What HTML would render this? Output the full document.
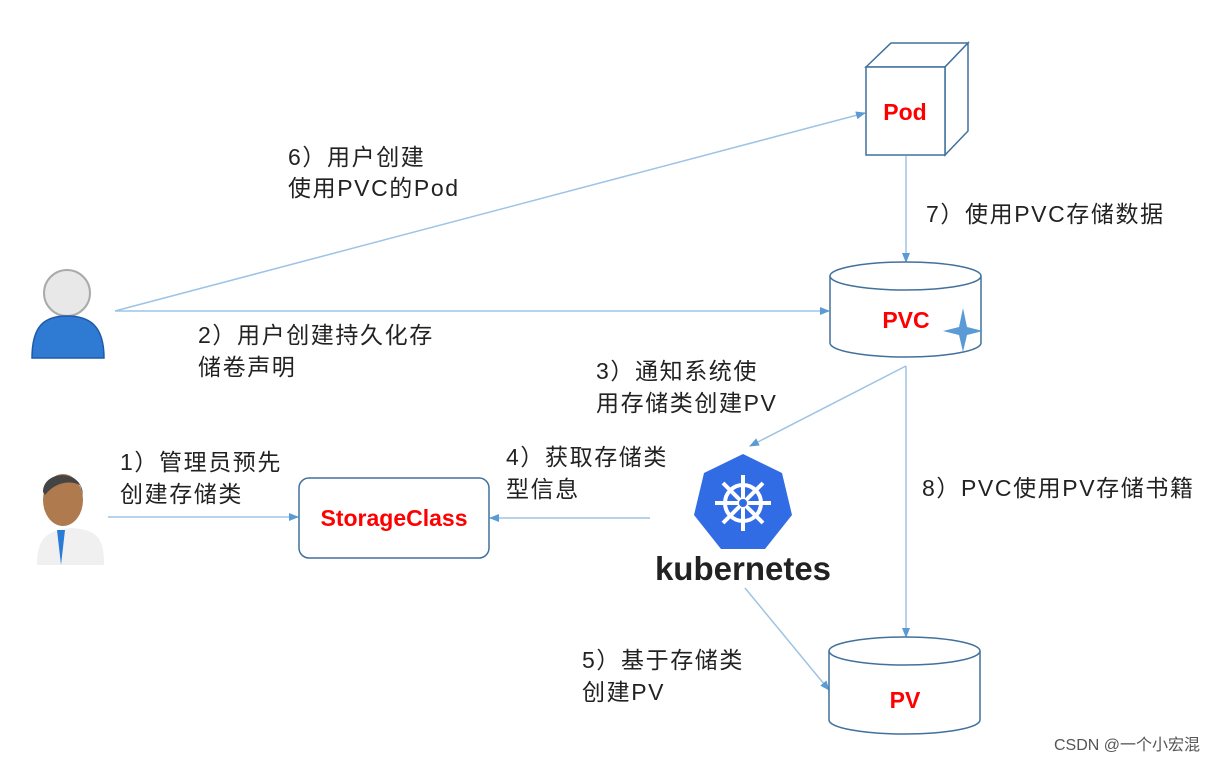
<!DOCTYPE html>
<html><head><meta charset="utf-8"><style>
body{margin:0;background:#fff;width:1215px;height:760px;overflow:hidden;font-family:"Liberation Sans","Noto Sans CJK SC",sans-serif;}
svg text{font-family:"Liberation Sans","Noto Sans CJK SC",sans-serif;}
.l{font-size:23px;fill:#222;letter-spacing:1.6px;}
.r{font-size:23px;fill:#f00;font-weight:bold;}
</style></head><body>
<svg width="1215" height="760" viewBox="0 0 1215 760">
<defs><marker id="a" markerWidth="10" markerHeight="8" refX="9" refY="4" orient="auto" markerUnits="userSpaceOnUse"><path d="M0,0 L10,4 L0,8z" fill="#5b9bd5"/></marker></defs>
<g stroke="#9dc3e6" stroke-width="1.5" fill="none" marker-end="url(#a)">
<line x1="115" y1="311" x2="865" y2="113"/>
<line x1="115" y1="311" x2="829" y2="311"/>
<line x1="906" y1="156" x2="906" y2="262"/>
<line x1="906" y1="366" x2="750" y2="446"/>
<line x1="906" y1="366" x2="906" y2="637"/>
<line x1="650" y1="518" x2="490" y2="518"/>
<line x1="108" y1="517" x2="298" y2="517"/>
<line x1="745" y1="588" x2="829" y2="690"/>
</g>
<g stroke="#41719c" stroke-width="1.5" fill="#fff">
<path d="M866,67 L891,43 L968,43 L945,67z"/>
<path d="M945,67 L968,43 L968,131 L945,155z"/>
<rect x="866" y="67" width="79" height="88"/>
</g>
<text class="r" x="905" y="120" text-anchor="middle">Pod</text>
<g stroke="#41719c" stroke-width="1.5" fill="#fff">
<path d="M830,276 L830,343 A75.5,14 0 0 0 981,343 L981,276"/>
<ellipse cx="905.5" cy="276" rx="75.5" ry="14"/>
</g>
<text class="r" x="906" y="328" text-anchor="middle">PVC</text>
<path d="M963,308 L967,327 L983,331 L967,335 L963,352 L959,335 L943,331 L959,327z" fill="#5b9bd5"/>
<g stroke="#41719c" stroke-width="1.5" fill="#fff">
<path d="M829,651 L829,720 A75.5,14 0 0 0 980,720 L980,651"/>
<ellipse cx="904.5" cy="651" rx="75.5" ry="14"/>
</g>
<text class="r" x="905" y="708" text-anchor="middle">PV</text>
<rect x="299" y="478" width="190" height="80" rx="10" fill="#fff" stroke="#41719c" stroke-width="1.5"/>
<text class="r" x="394" y="526" text-anchor="middle">StorageClass</text>
<path d="M743,454 L782,473 L792,515 L765,549 L721,549 L694,515 L704,473z" fill="#326ce5"/>
<g stroke="#fff" stroke-width="4" fill="none">
<circle cx="743" cy="503" r="18"/>
<line x1="743" y1="475" x2="743" y2="531"/><line x1="715" y1="503" x2="771" y2="503"/>
<line x1="723" y1="483" x2="763" y2="523"/><line x1="763" y1="483" x2="723" y2="523"/>
</g>
<circle cx="743" cy="503" r="4" fill="#326ce5"/>
<text x="743" y="580" text-anchor="middle" style="font-size:33px;font-weight:bold;fill:#222">kubernetes</text>
<circle cx="67" cy="293" r="23" fill="#e8e8e8" stroke="#aaa" stroke-width="2"/>
<path d="M32,358 C32,325 45,316 67,316 C89,316 104,325 104,358z" fill="#2f7ad3" stroke="#1e5aa8" stroke-width="1.5"/>
<path d="M37,565 C37,540 45,530 72,528 C99,530 104,540 104,565z" fill="#f0f0f0"/>
<path d="M57,530 L61,565 L65,530z" fill="#2a7bd6"/>
<ellipse cx="63" cy="500" rx="20" ry="26" fill="#b07a4f"/>
<path d="M43,492 C43,470 82,468 83,495 L80,485 C70,480 55,482 45,495z" fill="#444"/>
<text class="l" x="288" y="165">6）用户创建</text>
<text class="l" x="288" y="196">使用PVC的Pod</text>
<text class="l" x="926" y="222">7）使用PVC存储数据</text>
<text class="l" x="198" y="343">2）用户创建持久化存</text>
<text class="l" x="198" y="375">储卷声明</text>
<text class="l" x="596" y="379">3）通知系统使</text>
<text class="l" x="596" y="411">用存储类创建PV</text>
<text class="l" x="120" y="470">1）管理员预先</text>
<text class="l" x="120" y="502">创建存储类</text>
<text class="l" x="506" y="465">4）获取存储类</text>
<text class="l" x="506" y="497">型信息</text>
<text class="l" x="922" y="496">8）PVC使用PV存储书籍</text>
<text class="l" x="582" y="668">5）基于存储类</text>
<text class="l" x="582" y="700">创建PV</text>
<text x="1200" y="750" text-anchor="end" style="font-size:16px;fill:#555">CSDN @一个小宏混</text>
</svg>
</body></html>
